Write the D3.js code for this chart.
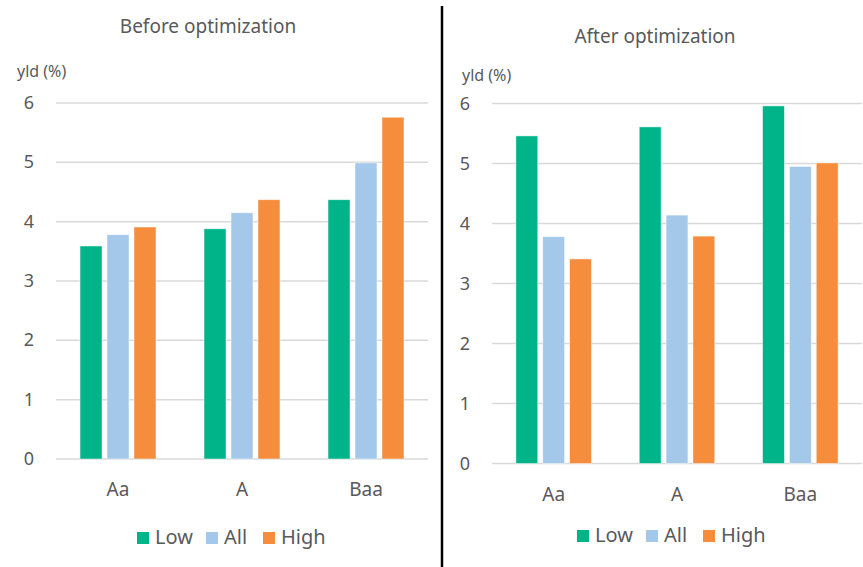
<!DOCTYPE html>
<html>
<head>
<meta charset="utf-8">
<script src="https://cdn.jsdelivr.net/npm/d3@7"></script>
<style>
body { margin: 0; background: #fff; }
svg text { font-family: "Noto Sans", "Open Sans", sans-serif; fill: #595959; }
</style>
</head>
<body>
<script>
var categories = ["Aa", "A", "Baa"];
var seriesNames = ["Low", "All", "High"];
var colors = ["#00B48A", "#A3C8EA", "#F58D3D"];
var yTicks = [0, 1, 2, 3, 4, 5, 6];

var beforeLow = [3.59, 3.88, 4.37];
var beforeAll = [3.78, 4.15, 4.99];
var beforeHigh = [3.91, 4.37, 5.76];

var afterLow = [5.46, 5.61, 5.96];
var afterAll = [3.78, 4.14, 4.95];
var afterHigh = [3.41, 3.79, 5.01];

var w = 863;
var h = 567;

var svg = d3.select("body")
			.append("svg")
			.attr("width", w)
			.attr("height", h);

function drawPanel(opt, low, all, high){
	var data = categories.map(function(c, i){
		return {cat: c, vals: [low[i], all[i], high[i]]};
	});

	var g = svg.append("g");

	var xScale = d3.scaleBand()
					.domain(categories)
					.range([opt.x0, opt.x1])
					.paddingInner(0)
					.paddingOuter(0);

	var xInner = d3.scaleBand()
					.domain(seriesNames)
					.range([0, xScale.bandwidth()])
					.paddingInner(0.185)
					.paddingOuter(0.89);

	var yScale = d3.scaleLinear()
					.domain([0, 6])
					.range([opt.y0, opt.y6]);

	// gridlines
	g.selectAll(".grid")
		.data(yTicks)
		.enter()
		.append("line")
		.attr("x1", opt.x0)
		.attr("x2", opt.x1)
		.attr("y1", function(d){return yScale(d);})
		.attr("y2", function(d){return yScale(d);})
		.attr("stroke", "#d9d9d9")
		.attr("stroke-width", 1.5);

	// y tick labels
	g.selectAll(".ytick")
		.data(yTicks)
		.enter()
		.append("text")
		.attr("x", opt.tickX)
		.attr("y", function(d){return yScale(d) + 6;})
		.attr("text-anchor", "middle")
		.attr("font-size", 18)
		.text(function(d){return d;});

	// bars
	var groups = g.selectAll(".grp")
		.data(data)
		.enter()
		.append("g")
		.attr("transform", function(d){return "translate(" + xScale(d.cat) + ",0)";});

	groups.selectAll("rect")
		.data(function(d){return d.vals.map(function(v, i){return {s: seriesNames[i], v: v, i: i};});})
		.enter()
		.append("rect")
		.attr("x", function(d){return xInner(d.s);})
		.attr("width", xInner.bandwidth())
		.attr("y", function(d){return yScale(d.v);})
		.attr("height", function(d){return yScale(0) - yScale(d.v);})
		.attr("fill", function(d){return colors[d.i];})
		.attr("stroke", "#fff")
		.attr("stroke-opacity", 0.6)
		.attr("stroke-width", 0.8);

	// category labels
	g.selectAll(".xlab")
		.data(categories)
		.enter()
		.append("text")
		.attr("x", function(d){return xScale(d) + xScale.bandwidth() / 2;})
		.attr("y", opt.y0 + 37)
		.attr("text-anchor", "middle")
		.attr("font-size", 19)
		.text(function(d){return d;});

	// title
	g.append("text")
		.attr("x", opt.titleX)
		.attr("y", opt.titleY)
		.attr("text-anchor", "middle")
		.attr("font-size", 19)
		.text(opt.title);

	g.append("text")
		.attr("x", opt.unitX)
		.attr("y", opt.unitY)
		.attr("font-size", 16)
		.text("yld (%)");

	// legend
	var leg = g.selectAll(".leg")
		.data(seriesNames)
		.enter()
		.append("g")
		.attr("transform", function(d, i){return "translate(" + opt.legX[i] + "," + opt.legY + ")";});

	leg.append("rect")
		.attr("width", 12)
		.attr("height", 12)
		.attr("fill", function(d, i){return colors[i];});

	leg.append("text")
		.attr("x", 18)
		.attr("y", 12)
		.attr("font-size", 20)
		.text(function(d){return d;});
}

drawPanel({
	x0: 56, x1: 428, y0: 459, y6: 103,
	tickX: 29, title: "Before optimization", titleX: 208, titleY: 33,
	unitX: 17, unitY: 77, legX: [137, 206, 263], legY: 532
}, beforeLow, beforeAll, beforeHigh);

drawPanel({
	x0: 492, x1: 862, y0: 463.5, y6: 103.5,
	tickX: 465, title: "After optimization", titleX: 655, titleY: 43,
	unitX: 462, unitY: 81, legX: [577, 646, 703], legY: 530
}, afterLow, afterAll, afterHigh);

// divider
svg.append("line")
	.attr("x1", 442)
	.attr("x2", 442)
	.attr("y1", 6)
	.attr("y2", h)
	.attr("stroke", "#000")
	.attr("stroke-width", 2.5);
</script>
</body>
</html>
